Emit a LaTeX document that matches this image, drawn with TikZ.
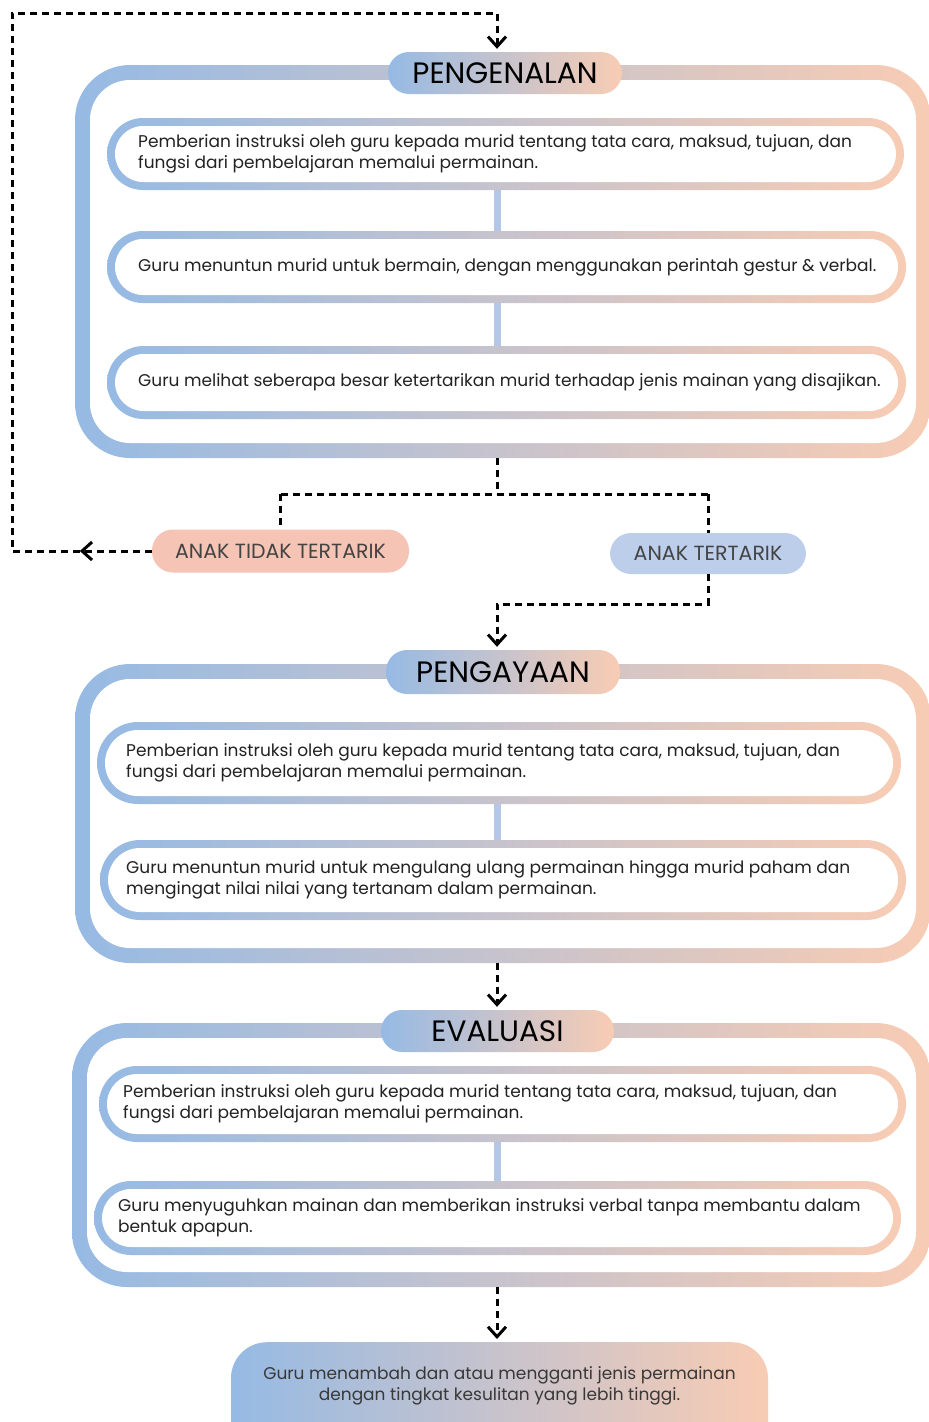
\documentclass[tikz,border=0pt]{standalone}
\usepackage{fontspec}
\setmainfont{Poppins}
\usetikzlibrary{arrows.meta,decorations.markings,calc}

\definecolor{cblue}{HTML}{96BAE4}
\definecolor{cpeach}{HTML}{F8CCB4}
\definecolor{cbar}{HTML}{B4C7E6}
\definecolor{csalmon}{HTML}{F5C4B4}
\definecolor{csky}{HTML}{BDCEEB}
\definecolor{ctext}{HTML}{222222}

\tikzset{
  grad/.style={left color=cblue, right color=cpeach, draw=none},
  bodytext/.style={font=\fontsize{17}{21}\selectfont, text=ctext, align=left, inner sep=0pt},
  titlepill/.style={grad, rounded corners=21pt, inner sep=0pt,
    font=\fontsize{29.5}{32}\selectfont, text=black},
  choice/.style={rounded corners=21pt, inner sep=0pt,
    font=\fontsize{20.5}{24}\selectfont, text=ctext!85},
  flow/.style={draw=black, line width=3pt, dash pattern=on 7pt off 5pt},
  linkbar/.style={draw=cbar, line width=7pt},
  >={Straight Barb[length=10pt,width=18pt]},
}

% gradient ring card with its text: name, x1, y1, x2, y2, text x, text
\newcommand\stepcard[7]{%
  \node[grad, rounded corners={(#5-#3)/2*1pt}, minimum width={(#4-#2)*1pt},
        minimum height={(#5-#3)*1pt}, inner sep=0pt] (#1) at ({(#2+#4)/2},{(#3+#5)/2}) {};
  \node[fill=white, rounded corners={((#5-#3)/2-8)*1pt}, minimum width={(#4-#2-16)*1pt},
        minimum height={(#5-#3-16)*1pt}, inner sep=0pt] at (#1) {};
  \node[bodytext, anchor=west] (#1t) at (#6,{(#3+#5)/2}) {#7};
}

% large gradient frame: name, center x, center y, width, height
\newcommand\stageframe[5]{%
  \node[grad, rounded corners=55pt, minimum width=#4pt, minimum height=#5pt,
        inner sep=0pt] (#1) at (#2,#3) {};
  \node[fill=white, rounded corners=40pt, minimum width={(#4-30)*1pt},
        minimum height={(#5-30)*1pt}, inner sep=0pt] at (#1) {};
}

\begin{document}
\begin{tikzpicture}[x=1pt,y=-1pt]
\useasboundingbox (0,0) rectangle (929,1422);
\fill[white] (0,0) rectangle (929,1422);

\coordinate (axis) at (497,0);

% ---------- stage 1 ----------
\stageframe{f1}{503}{261.5}{856}{393}
\stepcard{b1}{107}{118}{904}{190}{138}{Pemberian instruksi oleh guru kepada murid tentang tata cara, maksud, tujuan, dan\\fungsi dari pembelajaran memalui permainan.}
\stepcard{b2}{107}{231}{906}{303}{138}{Guru menuntun murid untuk bermain, dengan menggunakan perintah gestur \& verbal.}
\stepcard{b3}{107}{346}{906}{419}{138}{Guru melihat seberapa besar ketertarikan murid terhadap jenis mainan yang disajikan.}
\draw[linkbar] (axis |- b1.south) -- (axis |- b2.north);
\draw[linkbar] (axis |- b2.south) -- (axis |- b3.north);
\node[titlepill, minimum width=234pt, minimum height=42pt] (p1) at (505,73) {PENGENALAN};

% ---------- decision ----------
\node[choice, fill=csalmon, minimum width=257pt, minimum height=43pt] (tidak) at (280.5,551) {ANAK TIDAK TERTARIK};
\node[choice, fill=csky, minimum width=196pt, minimum height=41pt] (ya) at (708,553.5) {ANAK TERTARIK};

% ---------- stage 2 ----------
\stageframe{f2}{503}{813.5}{856}{299}
\stepcard{b4}{97}{722}{901}{804}{126}{Pemberian instruksi oleh guru kepada murid tentang tata cara, maksud, tujuan, dan\\fungsi dari pembelajaran memalui permainan.}
\stepcard{b5}{100}{840}{906}{920}{126}{Guru menuntun murid untuk mengulang ulang permainan hingga murid paham dan\\mengingat nilai nilai yang tertanam dalam permainan.}
\draw[linkbar] (axis |- b4.south) -- (axis |- b5.north);
\node[titlepill, minimum width=234pt, minimum height=44pt] (p2) at (503,672) {PENGAYAAN};

% ---------- stage 3 ----------
\stageframe{f3}{501.5}{1155}{859}{264}
\stepcard{b6}{99}{1066}{906}{1142}{123}{Pemberian instruksi oleh guru kepada murid tentang tata cara, maksud, tujuan, dan\\fungsi dari pembelajaran memalui permainan.}
\stepcard{b7}{94}{1181}{901}{1255}{118}{Guru menyuguhkan mainan dan memberikan instruksi verbal tanpa membantu dalam\\bentuk apapun.}
\draw[linkbar] (axis |- b6.south) -- (axis |- b7.north);
\node[titlepill, minimum width=233pt, minimum height=42pt] (p3) at (497.5,1031) {EVALUASI};

% ---------- final step ----------
\node[grad, rounded corners=36pt, minimum width=537pt, minimum height=120pt,
      inner sep=0pt, anchor=north] (fin) at (499.5,1342) {};
\node[bodytext, align=center, text=ctext!90] (fint) at (499.5,1386)
  {Guru menambah dan atau mengganti jenis permainan\\dengan tingkat kesulitan yang lebih tinggi.};

% ---------- dashed flow ----------
\coordinate (loop) at (12,13);
\draw[flow, ->, shorten >=3pt,
      postaction={decorate},
      decoration={markings, mark=at position 72pt with {\arrow{>}}}]
  (tidak.west) -- (tidak.west -| loop) -- (loop) -- (loop -| axis) -- (axis |- p1.north);

\draw[flow] (axis |- f1.south) -- ++(0,36) coordinate (split);
\draw[flow] (split -| tidak) -- (split -| ya);
\draw[flow] (split -| tidak) -- (tidak.north);
\draw[flow] (split -| ya) -- (ya.north);

\draw[flow, ->, shorten >=3pt] (ya.south) -- ++(0,30) coordinate (turn)
  -- (turn -| axis) -- (axis |- p2.north);
\draw[flow, ->, shorten >=3pt] (axis |- f2.south) -- (axis |- p3.north);
\draw[flow, ->, shorten >=3pt] (axis |- f3.south) -- (axis |- fin.north);
\end{tikzpicture}
\end{document}
